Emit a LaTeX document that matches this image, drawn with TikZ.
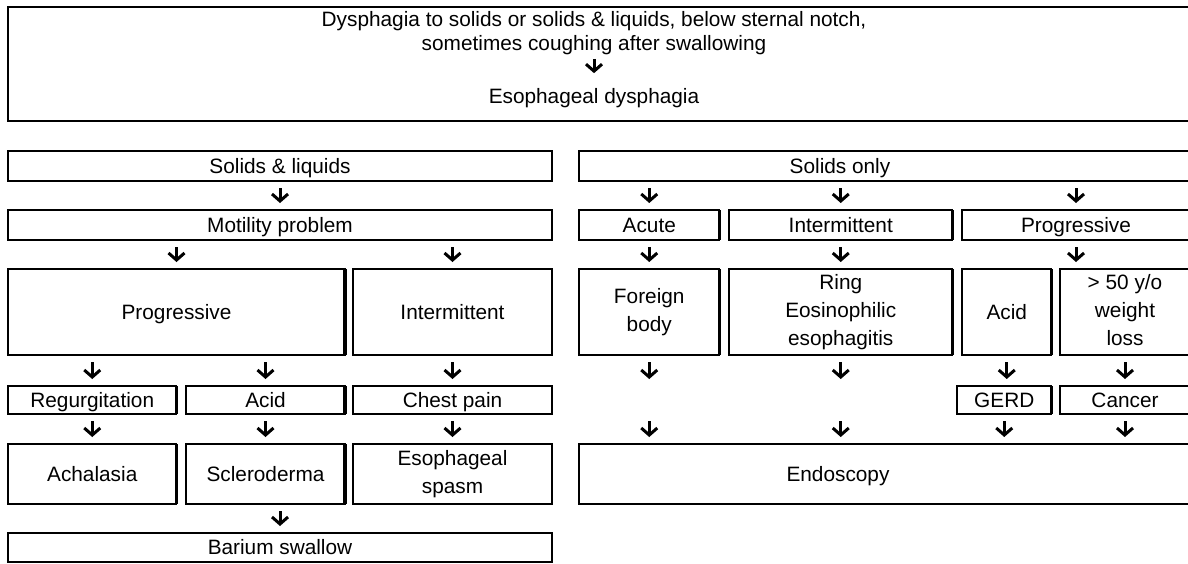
\documentclass[tikz,border=0pt]{standalone}
\usepackage{fontspec}
\setmainfont{Liberation Sans}
\usetikzlibrary{arrows.meta}
\tikzset{
  box/.style={draw, line width=1.3pt, inner sep=0pt, outer sep=0pt, align=center,
    font=\fontsize{20.8}{28}\selectfont},
  one/.style={text height=19pt, text depth=4.3pt},
  frame/.style={draw, line width=1.3pt, inner sep=0pt, outer sep=0pt},
  txt/.style={inner sep=0pt, align=center, font=\fontsize{20.8}{24}\selectfont},
  ghost/.style={inner sep=0pt, outer sep=0pt, minimum width=1pt, minimum height=28pt},
  down/.style={line width=3pt, -{Straight Barb[length=7pt,width=16pt]},
    shorten <=7pt, shorten >=7pt},
  wall/.style={line width=3.4pt},
}
\begin{document}
\begin{tikzpicture}[x=1pt, y=-1pt]
  \useasboundingbox (0,0) rectangle (1188,563);
  \clip (0,0) rectangle (1188,563);
  % top block
  \node[frame, minimum width=1182pt, minimum height=114pt] (top) at (599,64) {};
  \node[txt] (dys) at (594,33) {Dysphagia to solids or solids \& liquids, below sternal notch,\\sometimes coughing after swallowing};
  \node[txt, one] (eso) at (594,96) {Esophageal dysphagia};
  \draw[down, shorten <=4pt, shorten >=11pt] (dys) -- (eso);

  % left column
  \node[box, one, minimum width=544pt, minimum height=30pt] (solliq) at (280,166) {Solids \& liquids};
  \node[box, one, minimum width=544pt, minimum height=30pt] (motility) at (280,225) {Motility problem};
  \node[box, one, minimum width=337pt, minimum height=86pt] (progL) at (176.5,312) {Progressive};
  \node[box, one, minimum width=199pt, minimum height=86pt] (interL) at (452.5,312) {Intermittent};
  \node[box, one, minimum width=168.5pt, minimum height=28pt] (regurg) at (92.25,400) {Regurgitation};
  \node[box, one, minimum width=159pt, minimum height=28pt] (acidL) at (265.5,400) {Acid};
  \node[box, one, minimum width=199pt, minimum height=28pt] (chest) at (452.5,400) {Chest pain};
  \node[box, one, minimum width=168.5pt, minimum height=60pt] (achal) at (92.25,474) {Achalasia};
  \node[box, one, minimum width=159pt, minimum height=60pt] (sclero) at (265.5,474) {Scleroderma};
  \node[box, minimum width=199pt, minimum height=60pt] (spasm) at (452.5,474) {Esophageal\\spasm};
  \node[box, one, minimum width=544pt, minimum height=29pt] (barium) at (280,547.5) {Barium swallow};

  % right column
  \node[frame, minimum width=611pt, minimum height=30pt] (solonly) at (884.5,166) {};
  \node[txt, one] (solonlyt) at (840,166) {Solids only};
  \node[box, one, minimum width=140.5pt, minimum height=30pt] (acute) at (649.25,225) {Acute};
  \node[box, one, minimum width=223.5pt, minimum height=30pt] (interR) at (840.75,225) {Intermittent};
  \node[box, one, minimum width=228pt, minimum height=30pt] (progR) at (1076,225) {Progressive};
  \node[box, minimum width=140.5pt, minimum height=86pt] (foreign) at (649.25,312) {Foreign\\body};
  \node[box, minimum width=223.5pt, minimum height=86pt] (ring) at (840.75,312) {Ring\\Eosinophilic\\esophagitis};
  \node[box, one, minimum width=89.5pt, minimum height=86pt] (acidR) at (1006.75,312) {Acid};
  \node[box, minimum width=130pt, minimum height=86pt] (older) at (1125,312) {> 50 y/o\\weight\\loss\vphantom{y}};
  \node[ghost] (fb4) at (649.25,400) {};
  \node[ghost] (rg4) at (840.75,400) {};
  \node[box, one, minimum width=94.5pt, minimum height=28pt] (gerd) at (1004.25,400) {GERD};
  \node[box, one, minimum width=130pt, minimum height=28pt] (cancer) at (1125,400) {Cancer};
  \node[frame, minimum width=611pt, minimum height=60pt] (endo) at (884.5,474) {};
  \node[txt, one] (endot) at (838,474) {Endoscopy};

  % split walls
  \draw[wall] (progL.north east) -- (progL.south east);
  \draw[wall] (regurg.north east) -- (regurg.south east);
  \draw[wall] (acidL.north east) -- (acidL.south east);
  \draw[wall] (achal.north east) -- (achal.south east);
  \draw[wall] (sclero.north east) -- (sclero.south east);
  \draw[wall] (acute.north east) -- (acute.south east);
  \draw[wall] (interR.north east) -- (interR.south east);
  \draw[wall] (foreign.north east) -- (foreign.south east);
  \draw[wall] (ring.north east) -- (ring.south east);
  \draw[wall] (acidR.north east) -- (acidR.south east);
  \draw[wall] (gerd.north east) -- (gerd.south east);

  % arrows
  \draw[down] (solliq) -- (motility);
  \draw[down] (motility.south -| progL.north) -- (progL.north);
  \draw[down] (motility.south -| interL.north) -- (interL.north);
  \draw[down] (progL.south -| regurg.north) -- (regurg.north);
  \draw[down] (progL.south -| acidL.north) -- (acidL.north);
  \draw[down] (interL.south) -- (chest.north);
  \draw[down] (regurg) -- (achal);
  \draw[down] (acidL) -- (sclero);
  \draw[down] (chest) -- (spasm);
  \draw[down] (sclero.south -| barium.north) -- (barium.north);

  \draw[down] (solonly.south -| acute.north) -- (acute.north);
  \draw[down] (solonly.south -| interR.north) -- (interR.north);
  \draw[down] (solonly.south -| progR.north) -- (progR.north);
  \draw[down] (acute) -- (foreign);
  \draw[down] (interR) -- (ring);
  \draw[down] (progR.south) -- (progR.south |- older.north);
  \draw[down] (foreign) -- (fb4);
  \draw[down] (ring) -- (rg4);
  \draw[down] (acidR) -- (gerd.north -| acidR.south);
  \draw[down] (older) -- (cancer);
  \draw[down] (fb4.south) -- (fb4.south |- endo.north);
  \draw[down] (rg4.south) -- (rg4.south |- endo.north);
  \draw[down] (gerd.south) -- (gerd.south |- endo.north);
  \draw[down] (cancer.south) -- (cancer.south |- endo.north);
\end{tikzpicture}
\end{document}
